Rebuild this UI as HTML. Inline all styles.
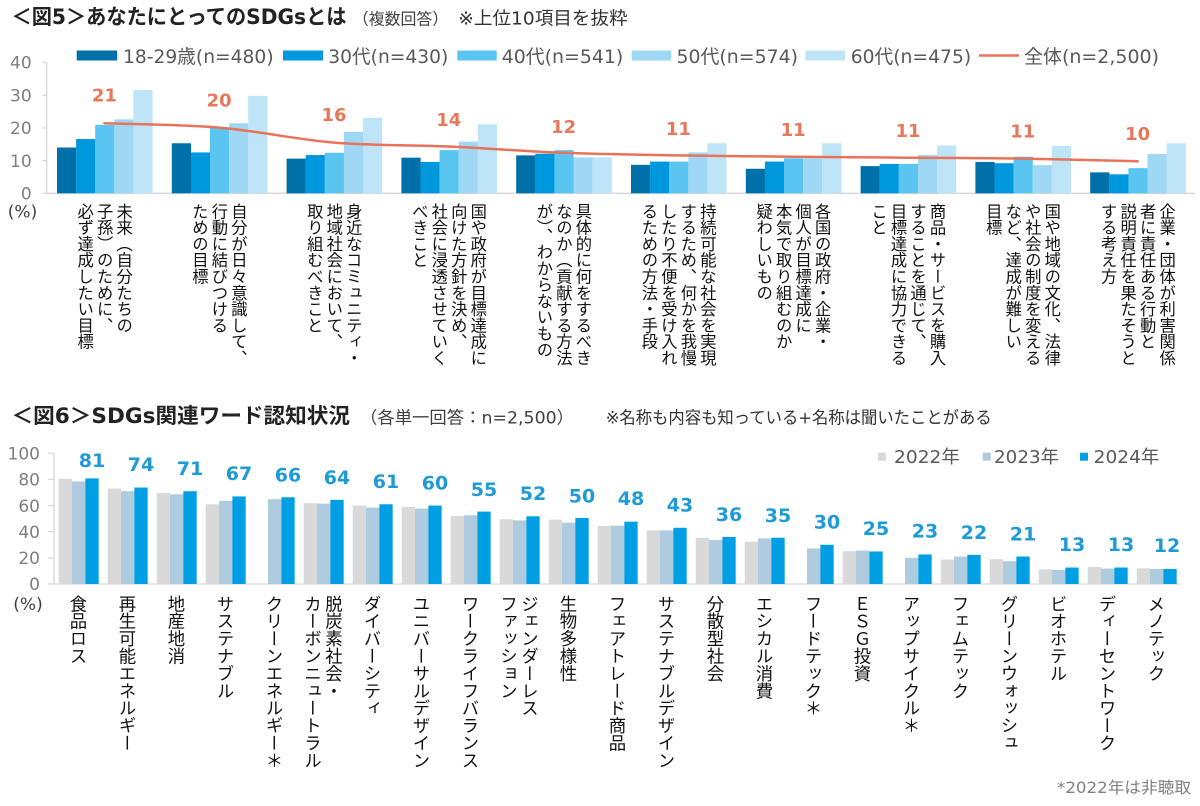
<!DOCTYPE html>
<html><head><meta charset="utf-8">
<style>
html,body{margin:0;padding:0;background:#fff;}
body{width:1200px;height:806px;position:relative;overflow:hidden;}
svg{position:absolute;left:0;top:0;}
.v{position:absolute;writing-mode:vertical-rl;font-family:"Liberation Sans","Noto Sans CJK JP",sans-serif;color:#111;white-space:nowrap;}
.v1{font-size:16.3px;line-height:19.5px;top:203px;}
.v2{font-size:17.4px;line-height:21px;top:595px;}
</style></head>
<body>
<svg width="1200" height="806" viewBox="0 0 1200 806" xmlns="http://www.w3.org/2000/svg" font-family="'DejaVu Sans','Noto Sans CJK JP',sans-serif">
<!-- Titles -->
<text x="11.5" y="24" font-size="21" font-weight="bold" fill="#222" textLength="335" lengthAdjust="spacingAndGlyphs">＜図5＞あなたにとってのSDGsとは</text>
<text x="352.7" y="24.5" font-size="16" fill="#404040" textLength="95.6" lengthAdjust="spacingAndGlyphs">（複数回答）</text>
<text x="458.3" y="24.5" font-size="18" fill="#333" textLength="169.4" lengthAdjust="spacingAndGlyphs">※上位10項目を抜粋</text>

<text x="11.5" y="423" font-size="21" font-weight="bold" fill="#222" textLength="338.5" lengthAdjust="spacingAndGlyphs">＜図6＞SDGs関連ワード認知状況</text>
<text x="360" y="423.5" font-size="17" fill="#404040" textLength="214" lengthAdjust="spacingAndGlyphs">（各単一回答：n=2,500）</text>
<text x="605.7" y="423.5" font-size="17" fill="#333" textLength="386" lengthAdjust="spacingAndGlyphs">※名称も内容も知っている+名称は聞いたことがある</text>

<!-- Legend 1 -->
<rect x="76.7" y="50.5" width="40.5" height="10" fill="#0070A8"/>
<text x="123" y="63" font-size="19" fill="#595959" textLength="150.6" lengthAdjust="spacingAndGlyphs">18-29歳(n=480)</text>
<rect x="283" y="50.5" width="40" height="10" fill="#0098DC"/>
<text x="328.3" y="63" font-size="19" fill="#595959" textLength="120" lengthAdjust="spacingAndGlyphs">30代(n=430)</text>
<rect x="457.3" y="50.5" width="39.4" height="10" fill="#5BC5F2"/>
<text x="501.7" y="63" font-size="19" fill="#595959" textLength="121.6" lengthAdjust="spacingAndGlyphs">40代(n=541)</text>
<rect x="631.7" y="50.5" width="39.5" height="10" fill="#9ED8F5"/>
<text x="676.5" y="63" font-size="19" fill="#595959" textLength="121.5" lengthAdjust="spacingAndGlyphs">50代(n=574)</text>
<rect x="805.5" y="50.5" width="39.5" height="10" fill="#BEE4F7"/>
<text x="850.7" y="63" font-size="19" fill="#595959" textLength="120.5" lengthAdjust="spacingAndGlyphs">60代(n=475)</text>
<line x1="979" y1="55.5" x2="1019" y2="55.5" stroke="#E8735A" stroke-width="2.5"/>
<text x="1024" y="63" font-size="19" fill="#595959" textLength="135" lengthAdjust="spacingAndGlyphs">全体(n=2,500)</text>

<!-- Chart 1 axes -->
<g stroke="#D9D9D9" stroke-width="1.3">
<line x1="46.7" y1="62.5" x2="46.7" y2="193.3"/>
<line x1="46.7" y1="193.3" x2="1195" y2="193.3"/>
<line x1="42.5" y1="62.5" x2="46.7" y2="62.5"/>
<line x1="42.5" y1="95.2" x2="46.7" y2="95.2"/>
<line x1="42.5" y1="127.9" x2="46.7" y2="127.9"/>
<line x1="42.5" y1="160.6" x2="46.7" y2="160.6"/>
<line x1="42.5" y1="193.3" x2="46.7" y2="193.3"/>
</g>
<g font-size="17" fill="#7F7F7F" text-anchor="end" font-family="'DejaVu Sans',sans-serif">
<text x="31.7" y="68.7">40</text>
<text x="31.7" y="101.4">30</text>
<text x="31.7" y="134.1">20</text>
<text x="31.7" y="166.8">10</text>
<text x="31.7" y="199.5">0</text>
</g>
<text x="22.5" y="217.5" font-size="17" fill="#404040" text-anchor="middle" font-family="'DejaVu Sans',sans-serif">(%)</text>

<!-- Chart 1 bars -->
<g fill="#0070A8">
<rect x="57.0" y="147.52" width="19.2" height="45.78"/>
<rect x="171.8" y="143.27" width="19.2" height="50.03"/>
<rect x="286.6" y="158.64" width="19.2" height="34.66"/>
<rect x="401.4" y="157.66" width="19.2" height="35.64"/>
<rect x="516.2" y="155.37" width="19.2" height="37.93"/>
<rect x="631.0" y="164.85" width="19.2" height="28.45"/>
<rect x="745.8" y="168.77" width="19.2" height="24.53"/>
<rect x="860.6" y="166.16" width="19.2" height="27.14"/>
<rect x="975.4" y="161.91" width="19.2" height="31.39"/>
<rect x="1090.2" y="172.37" width="19.2" height="20.93"/>
</g>
<g fill="#0098DC">
<rect x="76.1" y="139.02" width="19.2" height="54.28"/>
<rect x="190.9" y="152.42" width="19.2" height="40.88"/>
<rect x="305.7" y="155.04" width="19.2" height="38.26"/>
<rect x="420.5" y="161.91" width="19.2" height="31.39"/>
<rect x="535.3" y="153.73" width="19.2" height="39.57"/>
<rect x="650.1" y="161.58" width="19.2" height="31.72"/>
<rect x="764.9" y="161.58" width="19.2" height="31.72"/>
<rect x="879.7" y="163.87" width="19.2" height="29.43"/>
<rect x="994.5" y="163.22" width="19.2" height="30.08"/>
<rect x="1109.3" y="174.33" width="19.2" height="18.97"/>
</g>
<g fill="#5BC5F2">
<rect x="95.2" y="124.96" width="19.2" height="68.34"/>
<rect x="210.0" y="127.9" width="19.2" height="65.4"/>
<rect x="324.8" y="152.75" width="19.2" height="40.55"/>
<rect x="439.6" y="150.14" width="19.2" height="43.16"/>
<rect x="554.4" y="150.14" width="19.2" height="43.16"/>
<rect x="669.2" y="161.58" width="19.2" height="31.72"/>
<rect x="784.0" y="158.31" width="19.2" height="34.99"/>
<rect x="898.8" y="163.87" width="19.2" height="29.43"/>
<rect x="1013.6" y="156.68" width="19.2" height="36.62"/>
<rect x="1128.4" y="168.12" width="19.2" height="25.18"/>
</g>
<g fill="#9ED8F5">
<rect x="114.3" y="119.4" width="19.2" height="73.9"/>
<rect x="229.1" y="123.32" width="19.2" height="69.98"/>
<rect x="343.9" y="131.82" width="19.2" height="61.48"/>
<rect x="458.7" y="141.63" width="19.2" height="51.67"/>
<rect x="573.5" y="157.33" width="19.2" height="35.97"/>
<rect x="688.3" y="152.42" width="19.2" height="40.88"/>
<rect x="803.1" y="158.31" width="19.2" height="34.99"/>
<rect x="917.9" y="155.04" width="19.2" height="38.26"/>
<rect x="1032.7" y="165.18" width="19.2" height="28.12"/>
<rect x="1147.5" y="154.06" width="19.2" height="39.24"/>
</g>
<g fill="#BEE4F7">
<rect x="133.4" y="89.97" width="19.2" height="103.33"/>
<rect x="248.2" y="95.85" width="19.2" height="97.45"/>
<rect x="363.0" y="117.76" width="19.2" height="75.54"/>
<rect x="477.8" y="124.3" width="19.2" height="69.0"/>
<rect x="592.6" y="157.33" width="19.2" height="35.97"/>
<rect x="707.4" y="143.27" width="19.2" height="50.03"/>
<rect x="822.2" y="143.27" width="19.2" height="50.03"/>
<rect x="937.0" y="145.56" width="19.2" height="47.74"/>
<rect x="1051.8" y="145.88" width="19.2" height="47.42"/>
<rect x="1166.6" y="143.27" width="19.2" height="50.03"/>
</g>

<!-- Chart 1 line -->
<path d="M104.4,123.3 C123.53,124.02 180.93,124.38 219.2,127.6 C257.47,130.82 295.73,139.45 334,142.6 C372.27,145.75 410.53,144.8 448.8,146.5 C487.07,148.2 525.33,151.32 563.6,152.8 C601.87,154.28 640.13,154.75 678.4,155.4 C716.67,156.05 754.93,156.32 793.2,156.7 C831.47,157.08 869.73,157.38 908,157.7 C946.27,158.02 984.53,158.0 1022.8,158.6 C1061.07,159.2 1118.47,160.85 1137.6,161.3" fill="none" stroke="#E8735A" stroke-width="2.5" stroke-linecap="round"/>

<g font-size="18" font-weight="bold" fill="#E8785C" text-anchor="middle" font-family="'DejaVu Sans',sans-serif">
<text x="104.4" y="101.5">21</text>
<text x="219.2" y="106.7">20</text>
<text x="334.0" y="121">16</text>
<text x="448.8" y="125.8">14</text>
<text x="563.6" y="132.8">12</text>
<text x="678.4" y="134.9">11</text>
<text x="793.2" y="136">11</text>
<text x="908.0" y="136.8">11</text>
<text x="1022.8" y="137.3">11</text>
<text x="1137.6" y="140">10</text>
</g>

<!-- Legend 2 -->
<rect x="878" y="452.7" width="8" height="8" fill="#D9D9D9"/>
<text x="894" y="463" font-size="18" fill="#595959" textLength="66" lengthAdjust="spacingAndGlyphs">2022年</text>
<rect x="982.7" y="452.7" width="8" height="8" fill="#AECBE0"/>
<text x="994" y="463" font-size="18" fill="#595959" textLength="65" lengthAdjust="spacingAndGlyphs">2023年</text>
<rect x="1080" y="452.7" width="8" height="8" fill="#009FE3"/>
<text x="1093.7" y="463" font-size="18" fill="#595959" textLength="65.8" lengthAdjust="spacingAndGlyphs">2024年</text>

<!-- Chart 2 axes -->
<g stroke="#D9D9D9" stroke-width="1.3">
<line x1="54" y1="453.3" x2="54" y2="584"/>
<line x1="54" y1="584" x2="1181" y2="584"/>
<line x1="48.3" y1="453.3" x2="54" y2="453.3"/>
<line x1="48.3" y1="479.4" x2="54" y2="479.4"/>
<line x1="48.3" y1="505.6" x2="54" y2="505.6"/>
<line x1="48.3" y1="531.7" x2="54" y2="531.7"/>
<line x1="48.3" y1="557.9" x2="54" y2="557.9"/>
<line x1="48.3" y1="584" x2="54" y2="584"/>
</g>
<g font-size="17" fill="#7F7F7F" text-anchor="end" font-family="'DejaVu Sans',sans-serif">
<text x="40" y="459.5">100</text>
<text x="40" y="485.6">80</text>
<text x="40" y="511.8">60</text>
<text x="40" y="537.9">40</text>
<text x="40" y="564.1">20</text>
<text x="40" y="590.2">0</text>
</g>
<text x="28" y="610" font-size="17" fill="#404040" text-anchor="middle" font-family="'DejaVu Sans',sans-serif">(%)</text>

<!-- Chart 2 bars -->
<g fill="#D9D9D9">
<rect x="58.7" y="478.79" width="13.4" height="105.21"/>
<rect x="107.7" y="488.59" width="13.4" height="95.41"/>
<rect x="156.7" y="492.9" width="13.4" height="91.1"/>
<rect x="205.7" y="504.27" width="13.4" height="79.73"/>
<rect x="303.7" y="503.23" width="13.4" height="80.77"/>
<rect x="352.7" y="505.58" width="13.4" height="78.42"/>
<rect x="401.7" y="506.89" width="13.4" height="77.11"/>
<rect x="450.7" y="516.04" width="13.4" height="67.96"/>
<rect x="499.7" y="519.3" width="13.4" height="64.7"/>
<rect x="548.7" y="519.7" width="13.4" height="64.3"/>
<rect x="597.7" y="525.97" width="13.4" height="58.03"/>
<rect x="646.7" y="530.41" width="13.4" height="53.59"/>
<rect x="695.7" y="537.73" width="13.4" height="46.27"/>
<rect x="744.7" y="541.78" width="13.4" height="42.22"/>
<rect x="842.7" y="551.19" width="13.4" height="32.81"/>
<rect x="940.7" y="559.56" width="13.4" height="24.44"/>
<rect x="989.7" y="559.17" width="13.4" height="24.83"/>
<rect x="1038.7" y="569.23" width="13.4" height="14.77"/>
<rect x="1087.7" y="567.01" width="13.4" height="16.99"/>
<rect x="1136.7" y="568.32" width="13.4" height="15.68"/>
</g>
<g fill="#AECBE0">
<rect x="72.03" y="481.4" width="13.4" height="102.6"/>
<rect x="121.03" y="491.2" width="13.4" height="92.8"/>
<rect x="170.03" y="494.21" width="13.4" height="89.79"/>
<rect x="219.03" y="500.87" width="13.4" height="83.13"/>
<rect x="268.03" y="499.18" width="13.4" height="84.82"/>
<rect x="317.03" y="503.62" width="13.4" height="80.38"/>
<rect x="366.03" y="507.54" width="13.4" height="76.46"/>
<rect x="415.03" y="508.59" width="13.4" height="75.41"/>
<rect x="464.03" y="515.25" width="13.4" height="68.75"/>
<rect x="513.03" y="520.35" width="13.4" height="63.65"/>
<rect x="562.03" y="522.7" width="13.4" height="61.3"/>
<rect x="611.03" y="525.71" width="13.4" height="58.29"/>
<rect x="660.03" y="530.41" width="13.4" height="53.59"/>
<rect x="709.03" y="540.08" width="13.4" height="43.92"/>
<rect x="758.03" y="538.39" width="13.4" height="45.61"/>
<rect x="807.03" y="548.45" width="13.4" height="35.55"/>
<rect x="856.03" y="550.54" width="13.4" height="33.46"/>
<rect x="905.03" y="557.86" width="13.4" height="26.14"/>
<rect x="954.03" y="556.55" width="13.4" height="27.45"/>
<rect x="1003.03" y="561.26" width="13.4" height="22.74"/>
<rect x="1052.03" y="569.88" width="13.4" height="14.12"/>
<rect x="1101.03" y="568.58" width="13.4" height="15.42"/>
<rect x="1150.03" y="568.97" width="13.4" height="15.03"/>
</g>
<g fill="#009FE3">
<rect x="85.37" y="478.4" width="13.3" height="105.6"/>
<rect x="134.37" y="487.54" width="13.3" height="96.46"/>
<rect x="183.37" y="491.2" width="13.3" height="92.8"/>
<rect x="232.37" y="496.43" width="13.3" height="87.57"/>
<rect x="281.37" y="497.22" width="13.3" height="86.78"/>
<rect x="330.37" y="499.83" width="13.3" height="84.17"/>
<rect x="379.37" y="504.27" width="13.3" height="79.73"/>
<rect x="428.37" y="505.58" width="13.3" height="78.42"/>
<rect x="477.37" y="511.59" width="13.3" height="72.41"/>
<rect x="526.37" y="516.3" width="13.3" height="67.7"/>
<rect x="575.37" y="518.0" width="13.3" height="66.0"/>
<rect x="624.37" y="521.66" width="13.3" height="62.34"/>
<rect x="673.37" y="527.8" width="13.3" height="56.2"/>
<rect x="722.37" y="536.95" width="13.3" height="47.05"/>
<rect x="771.37" y="537.73" width="13.3" height="46.27"/>
<rect x="820.37" y="544.79" width="13.3" height="39.21"/>
<rect x="869.37" y="551.46" width="13.3" height="32.54"/>
<rect x="918.37" y="554.46" width="13.3" height="29.54"/>
<rect x="967.37" y="554.85" width="13.3" height="29.15"/>
<rect x="1016.37" y="556.55" width="13.3" height="27.45"/>
<rect x="1065.37" y="567.53" width="13.3" height="16.47"/>
<rect x="1114.37" y="567.53" width="13.3" height="16.47"/>
<rect x="1163.37" y="568.97" width="13.3" height="15.03"/>
</g>

<g font-size="19" font-weight="bold" fill="#1E9BD7" text-anchor="middle" font-family="'DejaVu Sans',sans-serif">
<text x="92.0" y="466.8">81</text>
<text x="141.0" y="471.1">74</text>
<text x="190.0" y="475.0">71</text>
<text x="239.0" y="480.2">67</text>
<text x="288.0" y="481.5">66</text>
<text x="337.0" y="484.2">64</text>
<text x="386.0" y="488.1">61</text>
<text x="435.0" y="489.4">60</text>
<text x="484.0" y="495.9">55</text>
<text x="533.0" y="499.8">52</text>
<text x="582.0" y="502.4">50</text>
<text x="631.0" y="505.1">48</text>
<text x="680.0" y="511.6">43</text>
<text x="729.0" y="520.8">36</text>
<text x="778.0" y="522.1">35</text>
<text x="827.0" y="528.6">30</text>
<text x="876.0" y="535.1">25</text>
<text x="925.0" y="537.7">23</text>
<text x="974.0" y="539.0">22</text>
<text x="1023.0" y="540.4">21</text>
<text x="1072.0" y="550.8">13</text>
<text x="1121.0" y="550.8">13</text>
<text x="1167.0" y="552.1">12</text>
</g>

<text x="1191" y="793" font-size="16" fill="#808080" text-anchor="end" textLength="134" lengthAdjust="spacingAndGlyphs">*2022年は非聴取</text>
</svg>

<!-- Chart 1 category labels -->
<div class="v v1" style="left:73.15px;">未来（自分たちの<br>子孫）のために、<br>必ず達成したい目標</div>
<div class="v v1" style="left:187.95px;">自分が日々意識して、<br>行動に結びつける<br>ための目標</div>
<div class="v v1" style="left:302.75px;">身近なコミュニティ・<br>地域社会において、<br>取り組むべきこと</div>
<div class="v v1" style="left:407.8px;">国や政府が目標達成に<br>向けた方針を決め、<br>社会に浸透させていく<br>べきこと</div>
<div class="v v1" style="left:532.35px;">具体的に何をするべき<br>なのか（貢献する方法<br>が）、わからないもの</div>
<div class="v v1" style="left:637.4px;">持続可能な社会を実現<br>するため、何かを我慢<br>したり不便を受け入れ<br>るための方法・手段</div>
<div class="v v1" style="left:752.2px;">各国の政府・企業・<br>個人が目標達成に<br>本気で取り組むのか<br>疑わしいもの</div>
<div class="v v1" style="left:867.0px;">商品・サービスを購入<br>することを通じて、<br>目標達成に協力できる<br>こと</div>
<div class="v v1" style="left:981.8px;">国や地域の文化、法律<br>や社会の制度を変える<br>など、達成が難しい<br>目標</div>
<div class="v v1" style="left:1096.6px;">企業・団体が利害関係<br>者に責任ある行動と<br>説明責任を果たそうと<br>する考え方</div>

<!-- Chart 2 category labels -->
<div class="v v2" style="left:67px;">食品ロス</div>
<div class="v v2" style="left:116px;">再生可能エネルギー</div>
<div class="v v2" style="left:165px;">地産地消</div>
<div class="v v2" style="left:214px;">サステナブル</div>
<div class="v v2" style="left:263px;">クリーンエネルギー＊</div>
<div class="v v2" style="left:301.5px;">脱炭素社会・<br>カーボンニュートラル</div>
<div class="v v2" style="left:361px;">ダイバーシティ</div>
<div class="v v2" style="left:410px;">ユニバーサルデザイン</div>
<div class="v v2" style="left:459px;">ワークライフバランス</div>
<div class="v v2" style="left:497.5px;">ジェンダーレス<br>ファッション</div>
<div class="v v2" style="left:557px;">生物多様性</div>
<div class="v v2" style="left:606px;">フェアトレード商品</div>
<div class="v v2" style="left:655px;">サステナブルデザイン</div>
<div class="v v2" style="left:704px;">分散型社会</div>
<div class="v v2" style="left:753px;">エシカル消費</div>
<div class="v v2" style="left:802px;">フードテック＊</div>
<div class="v v2" style="left:851px;">ＥＳＧ投資</div>
<div class="v v2" style="left:900px;">アップサイクル＊</div>
<div class="v v2" style="left:949px;">フェムテック</div>
<div class="v v2" style="left:998px;">グリーンウォッシュ</div>
<div class="v v2" style="left:1047px;">ビオホテル</div>
<div class="v v2" style="left:1096px;">ディーセントワーク</div>
<div class="v v2" style="left:1145px;">メノテック</div>
</body></html>
